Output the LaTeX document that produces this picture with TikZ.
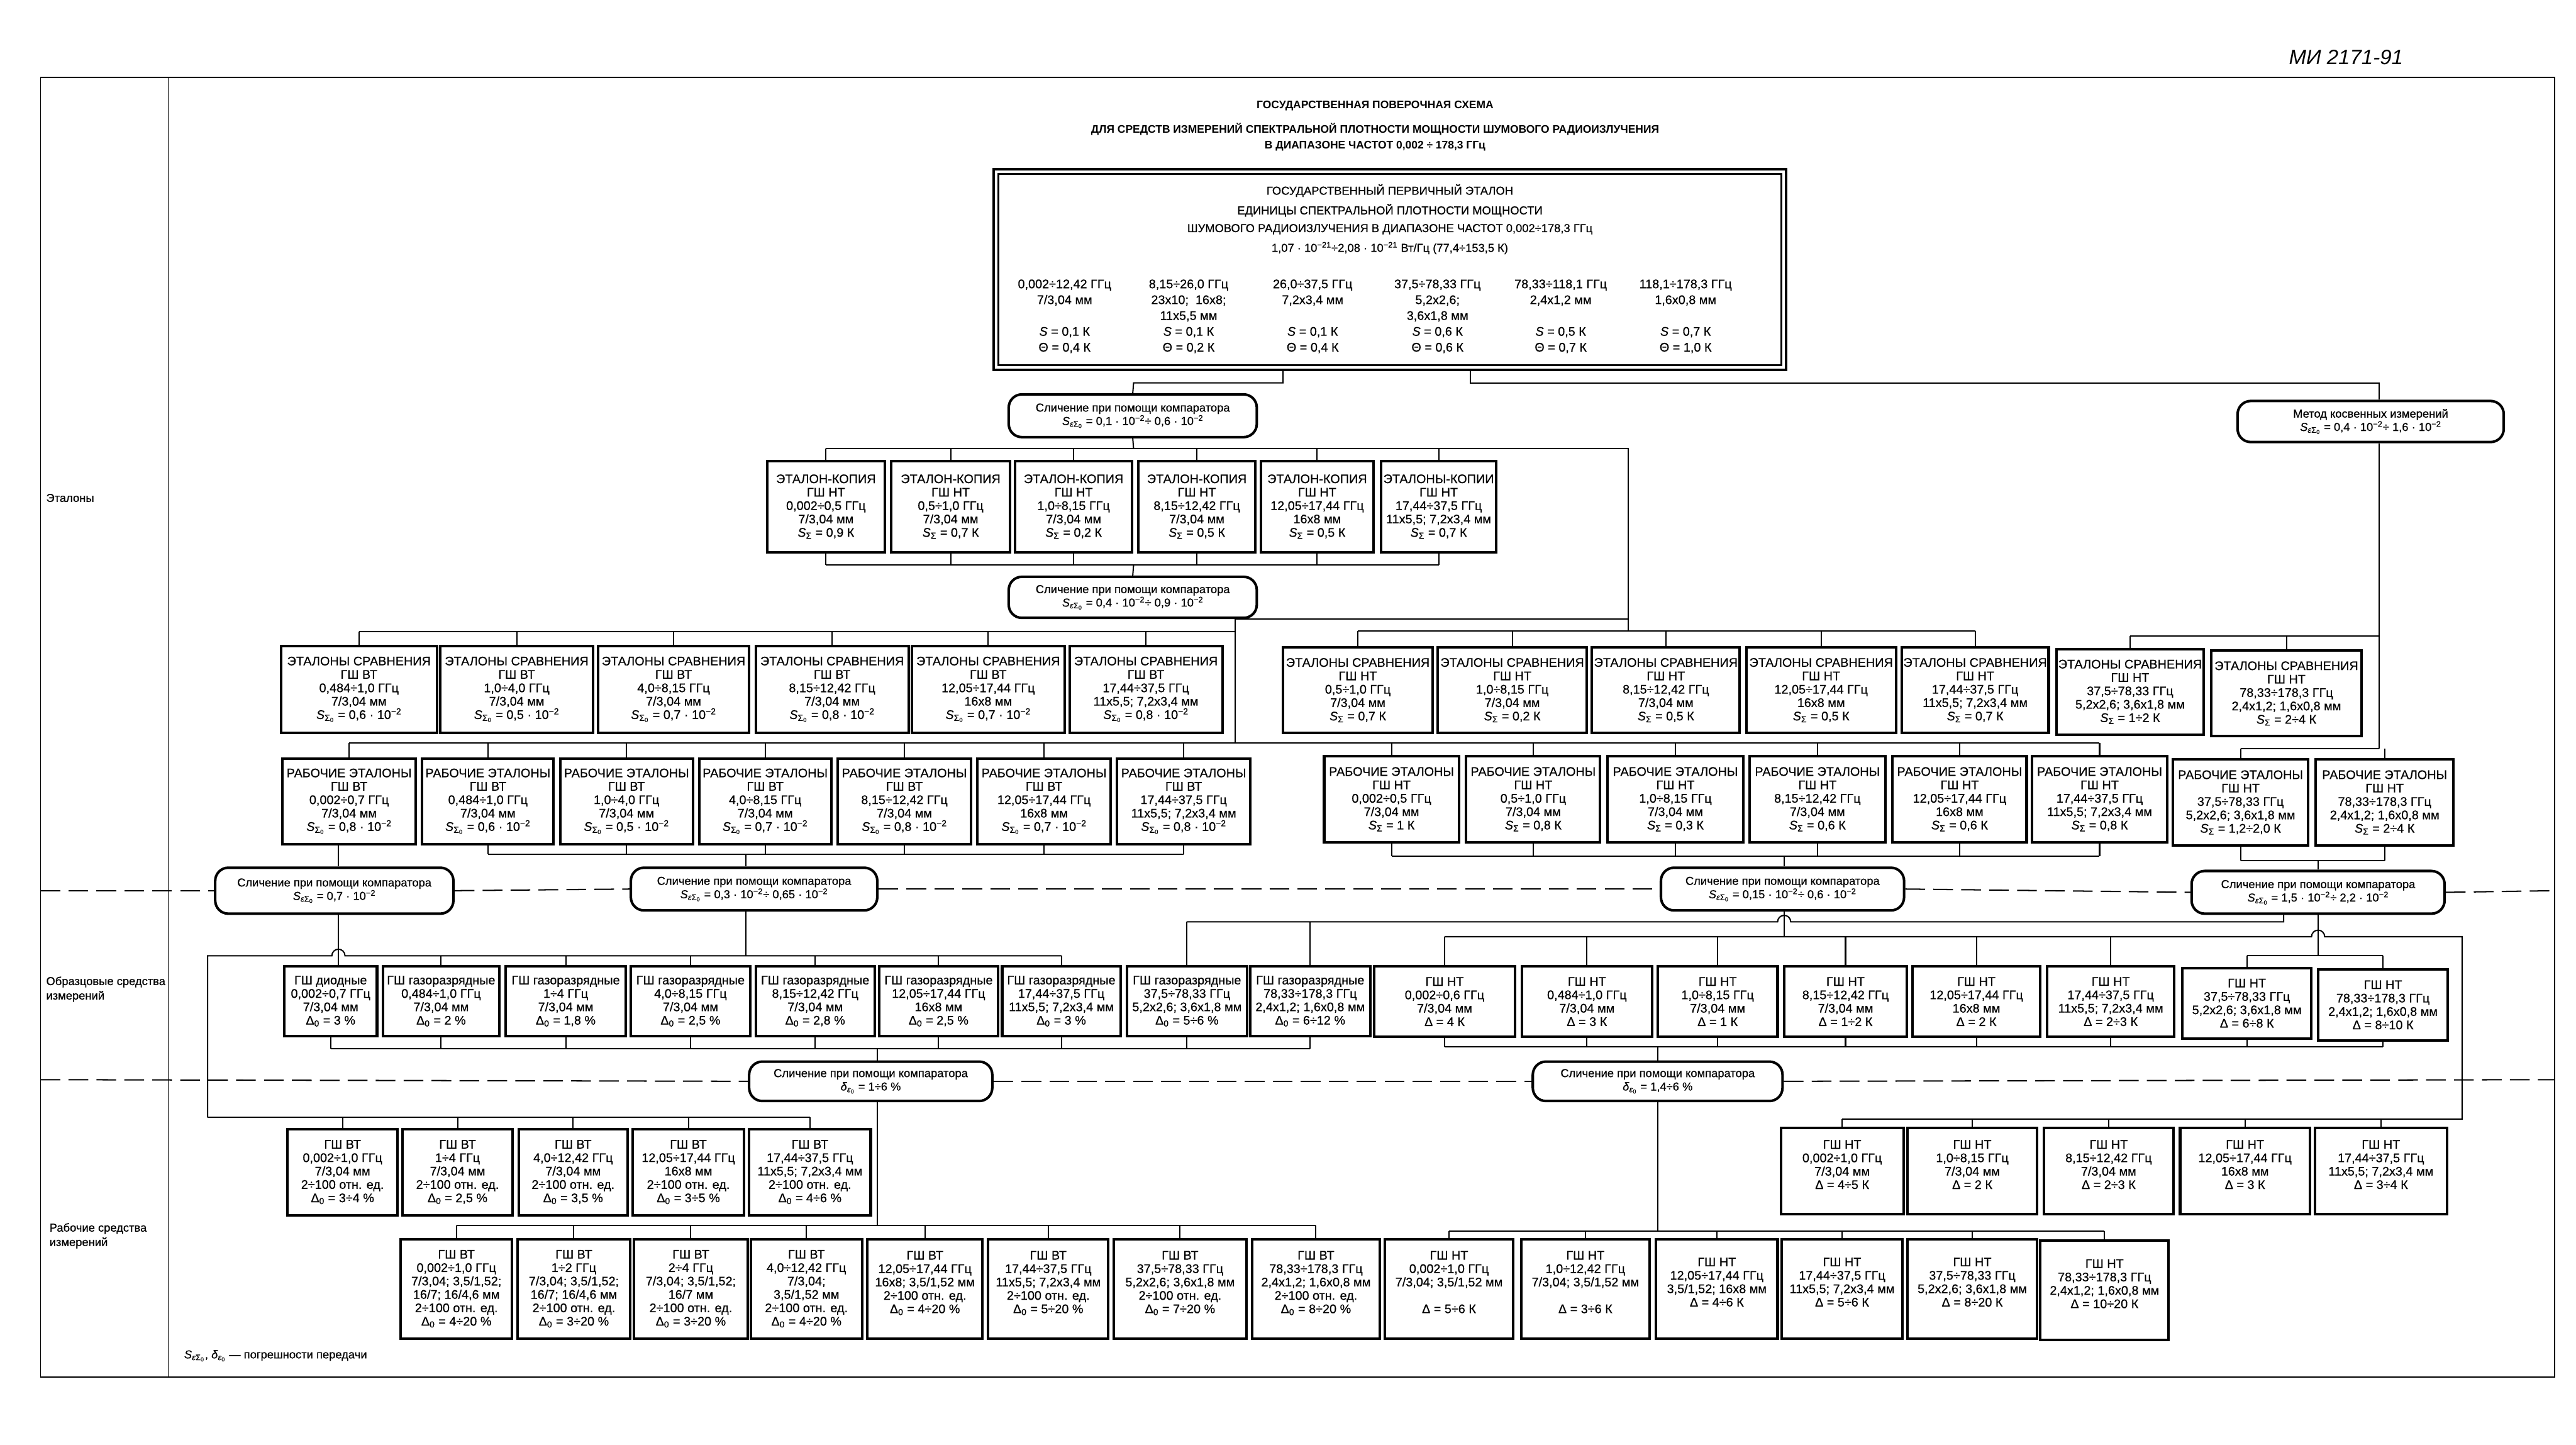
\documentclass[tikz,border=0pt]{standalone}
\usepackage{fontspec}
\setmainfont{Liberation Sans}
\newfontfamily\bxfont{Liberation Sans}[FakeBold=0.5]
\usetikzlibrary{calc}
\newcommand\Seps{\textit{S}\textsubscript{\textit{ε}Σ\textsubscript{0}}}
\newcommand\SSig{\textit{S}\textsubscript{Σ}}
\newcommand\SSigo{\textit{S}\textsubscript{Σ\textsubscript{0}}}
\newcommand\Dnull{Δ\textsubscript{0}}
\newcommand\depsn{\textit{δ}\textsubscript{\textit{ε}\textsubscript{0}}}
\newcommand\tm{\textsuperscript{−2}}
\newcommand\bxn[7][bx]{\node[#1, minimum width={(#5-#3)*0.05cm}, minimum height={(#6-#4)*0.05cm}] (#2) at ({(#3+#5)/2},{(#4+#6)/2}) {#7};}
\newcommand\dnc[2]{\draw[cn] (#1.north) -- (#1.north |- 0,#2);}
\newcommand\upc[2]{\draw[cn] (#1.south) -- (#1.south |- 0,#2);}
\begin{document}
\begin{tikzpicture}[x=0.05cm,y=-0.05cm,
 bx/.style={draw,line width=2.2pt,inner sep=0pt,align=center,font=\bxfont\fontsize{10.8}{11.6}\selectfont,fill=white},
 cmp/.style={draw,line width=2.2pt,rounded corners=0.4cm,inner sep=0pt,align=center,font=\bxfont\fontsize{10}{11.6}\selectfont,fill=white},
 txt/.style={inner sep=0pt,align=center,font=\bxfont\fontsize{10}{12}\selectfont},
 ttl/.style={inner sep=0pt,font=\bfseries\fontsize{9.5}{11}\selectfont},
 cn/.style={line width=1.1pt},
 dsh/.style={line width=1.1pt,dash pattern=on 0.6cm off 0.25cm},
 frm/.style={line width=0.8pt},
 lbl/.style={inner sep=0pt,align=left,anchor=west,font=\bxfont\fontsize{10}{12.5}\selectfont}]
\useasboundingbox (0,0) rectangle (1568,879);
\fill[white] (0,0) rectangle (1568,879);

% frame
\draw[frm] (24.7,47) rectangle (1555,838);
\draw[frm] (102.5,47) -- (102.5,838);
\node[lbl] (lab1) at (28,303) {Эталоны};
\node[lbl] (lab2) at (28,602) {Образцовые средства\\измерений};
\node[lbl] (lab3) at (30,752) {Рабочие средства\\измерений};
\node[lbl] (leg) at (112,825) {\Seps, \depsn{} — погрешности передачи};

\node[inner sep=0pt,font=\fontsize{18}{21}\selectfont\itshape] (mi) at (1428,35) {МИ 2171-91};
\node[ttl] (t1) at (837,64.3) {ГОСУДАРСТВЕННАЯ ПОВЕРОЧНАЯ СХЕМА};
\node[ttl] (t2) at (837,78.7) {ДЛЯ СРЕДСТВ ИЗМЕРЕНИЙ СПЕКТРАЛЬНОЙ ПЛОТНОСТИ МОЩНОСТИ ШУМОВОГО РАДИОИЗЛУЧЕНИЯ};
\node[ttl] (t3) at (837,89) {В ДИАПАЗОНЕ ЧАСТОТ 0,002 ÷ 178,3 ГГц};

% top box
\bxn[bx]{tb}{605}{103}{1087}{225}{}
\draw[line width=1.8pt] ($(tb.north west)+(3.5,3.5)$) rectangle ($(tb.south east)+(-3.5,-3.5)$);
\node[txt] (tb1) at (846,116) {ГОСУДАРСТВЕННЫЙ ПЕРВИЧНЫЙ ЭТАЛОН};
\node[txt] (tb2) at (846,128) {ЕДИНИЦЫ СПЕКТРАЛЬНОЙ ПЛОТНОСТИ МОЩНОСТИ};
\node[txt] (tb3) at (846,139.5) {ШУМОВОГО РАДИОИЗЛУЧЕНИЯ В ДИАПАЗОНЕ ЧАСТОТ 0,002÷178,3 ГГц};
\node[txt] (tb4) at (846,151) {1,07 · 10\textsuperscript{−21}÷2,08 · 10\textsuperscript{−21} Вт/Гц (77,4÷153,5 К)};
\tikzset{col/.style={inner sep=0pt,align=center,font=\bxfont\fontsize{10.8}{13.7}\selectfont}}
\node[col] (cl1) at (648,192.5) {0,002÷12,42 ГГц\\7/3,04 мм\\~\\\textit{S} = 0,1 К\\Θ = 0,4 К};
\node[col] (cl2) at (723.5,192.5) {8,15÷26,0 ГГц\\23x10;~~16x8;\\11x5,5 мм\\\textit{S} = 0,1 К\\Θ = 0,2 К};
\node[col] (cl3) at (799,192.5) {26,0÷37,5 ГГц\\7,2x3,4 мм\\~\\\textit{S} = 0,1 К\\Θ = 0,4 К};
\node[col] (cl4) at (875,192.5) {37,5÷78,33 ГГц\\5,2x2,6;\\3,6x1,8 мм\\\textit{S} = 0,6 К\\Θ = 0,6 К};
\node[col] (cl5) at (950,192.5) {78,33÷118,1 ГГц\\2,4x1,2 мм\\~\\\textit{S} = 0,5 К\\Θ = 0,7 К};
\node[col] (cl6) at (1026,192.5) {118,1÷178,3 ГГц\\1,6x0,8 мм\\~\\\textit{S} = 0,7 К\\Θ = 1,0 К};

% comparators / method
\bxn[cmp]{c1}{614}{240}{765}{266}{Сличение при помощи компаратора\\\Seps{} = 0,1 · 10\tm ÷ 0,6 · 10\tm}
\bxn[cmp]{m}{1362}{244}{1524}{269}{Метод косвенных измерений\\\Seps{} = 0,4 · 10\tm ÷ 1,6 · 10\tm}
\bxn[cmp]{c2}{614}{351}{765}{376}{Сличение при помощи компаратора\\\Seps{} = 0,4 · 10\tm ÷ 0,9 · 10\tm}

% эталоны-копии
\bxn{ek1}{467}{280.5}{538.5}{336}{ЭТАЛОН-КОПИЯ\\ГШ НТ\\0,002÷0,5 ГГц\\7/3,04 мм\\\SSig{} = 0,9 К}
\bxn{ek2}{542.6}{280.5}{614.7}{336}{ЭТАЛОН-КОПИЯ\\ГШ НТ\\0,5÷1,0 ГГц\\7/3,04 мм\\\SSig{} = 0,7 К}
\bxn{ek3}{618}{280.5}{689}{336}{ЭТАЛОН-КОПИЯ\\ГШ НТ\\1,0÷8,15 ГГц\\7/3,04 мм\\\SSig{} = 0,2 К}
\bxn{ek4}{693}{280.5}{764}{336}{ЭТАЛОН-КОПИЯ\\ГШ НТ\\8,15÷12,42 ГГц\\7/3,04 мм\\\SSig{} = 0,5 К}
\bxn{ek5}{767.5}{280.5}{836}{336}{ЭТАЛОН-КОПИЯ\\ГШ НТ\\12,05÷17,44 ГГц\\16x8 мм\\\SSig{} = 0,5 К}
\bxn{ek6}{840.6}{280.5}{910.8}{336}{ЭТАЛОНЫ-КОПИИ\\ГШ НТ\\17,44÷37,5 ГГц\\11x5,5;~7,2x3,4 мм\\\SSig{} = 0,7 К}

% эталоны сравнения ВТ
\bxn{es1}{171}{393}{266}{446}{ЭТАЛОНЫ СРАВНЕНИЯ\\ГШ ВТ\\0,484÷1,0 ГГц\\7/3,04 мм\\\SSigo{} = 0,6 · 10\tm}
\bxn{es2}{268}{393}{361}{446}{ЭТАЛОНЫ СРАВНЕНИЯ\\ГШ ВТ\\1,0÷4,0 ГГц\\7/3,04 мм\\\SSigo{} = 0,5 · 10\tm}
\bxn{es3}{364}{393}{456}{446}{ЭТАЛОНЫ СРАВНЕНИЯ\\ГШ ВТ\\4,0÷8,15 ГГц\\7/3,04 мм\\\SSigo{} = 0,7 · 10\tm}
\bxn{es4}{460}{393}{553}{446}{ЭТАЛОНЫ СРАВНЕНИЯ\\ГШ ВТ\\8,15÷12,42 ГГц\\7/3,04 мм\\\SSigo{} = 0,8 · 10\tm}
\bxn{es5}{555}{393}{648}{446}{ЭТАЛОНЫ СРАВНЕНИЯ\\ГШ ВТ\\12,05÷17,44 ГГц\\16x8 мм\\\SSigo{} = 0,7 · 10\tm}
\bxn{es6}{651}{393}{744}{446}{ЭТАЛОНЫ СРАВНЕНИЯ\\ГШ ВТ\\17,44÷37,5 ГГц\\11x5,5;~7,2x3,4 мм\\\SSigo{} = 0,8 · 10\tm}
% эталоны сравнения НТ
\bxn{er1}{781}{394}{872}{446}{ЭТАЛОНЫ СРАВНЕНИЯ\\ГШ НТ\\0,5÷1,0 ГГц\\7/3,04 мм\\\SSig{} = 0,7 К}
\bxn{er2}{875}{394}{966}{446}{ЭТАЛОНЫ СРАВНЕНИЯ\\ГШ НТ\\1,0÷8,15 ГГц\\7/3,04 мм\\\SSig{} = 0,2 К}
\bxn{er3}{969}{394}{1059}{446}{ЭТАЛОНЫ СРАВНЕНИЯ\\ГШ НТ\\8,15÷12,42 ГГц\\7/3,04 мм\\\SSig{} = 0,5 К}
\bxn{er4}{1063}{394}{1154}{446}{ЭТАЛОНЫ СРАВНЕНИЯ\\ГШ НТ\\12,05÷17,44 ГГц\\16x8 мм\\\SSig{} = 0,5 К}
\bxn{er5}{1157.5}{394}{1247}{446}{ЭТАЛОНЫ СРАВНЕНИЯ\\ГШ НТ\\17,44÷37,5 ГГц\\11x5,5;~7,2x3,4 мм\\\SSig{} = 0,7 К}
\bxn{er6}{1251.6}{395}{1341.5}{447}{ЭТАЛОНЫ СРАВНЕНИЯ\\ГШ НТ\\37,5÷78,33 ГГц\\5,2x2,6;~3,6x1,8 мм\\\SSig{} = 1÷2 К}
\bxn{er7}{1345.8}{396}{1437.6}{448}{ЭТАЛОНЫ СРАВНЕНИЯ\\ГШ НТ\\78,33÷178,3 ГГц\\2,4x1,2;~1,6x0,8 мм\\\SSig{} = 2÷4 К}

% рабочие эталоны ВТ
\bxn{rl1}{172}{461.5}{253}{513.7}{РАБОЧИЕ ЭТАЛОНЫ\\ГШ ВТ\\0,002÷0,7 ГГц\\7/3,04 мм\\\SSigo{} = 0,8 · 10\tm}
\bxn{rl2}{257}{461.5}{337}{513.7}{РАБОЧИЕ ЭТАЛОНЫ\\ГШ ВТ\\0,484÷1,0 ГГц\\7/3,04 мм\\\SSigo{} = 0,6 · 10\tm}
\bxn{rl3}{341}{461.5}{421.7}{513.7}{РАБОЧИЕ ЭТАЛОНЫ\\ГШ ВТ\\1,0÷4,0 ГГц\\7/3,04 мм\\\SSigo{} = 0,5 · 10\tm}
\bxn{rl4}{425.5}{461.5}{506}{513.7}{РАБОЧИЕ ЭТАЛОНЫ\\ГШ ВТ\\4,0÷8,15 ГГц\\7/3,04 мм\\\SSigo{} = 0,7 · 10\tm}
\bxn{rl5}{510}{461.5}{591}{513.7}{РАБОЧИЕ ЭТАЛОНЫ\\ГШ ВТ\\8,15÷12,42 ГГц\\7/3,04 мм\\\SSigo{} = 0,8 · 10\tm}
\bxn{rl6}{595}{461.5}{676}{513.7}{РАБОЧИЕ ЭТАЛОНЫ\\ГШ ВТ\\12,05÷17,44 ГГц\\16x8 мм\\\SSigo{} = 0,7 · 10\tm}
\bxn{rl7}{680}{461.5}{761}{513.7}{РАБОЧИЕ ЭТАЛОНЫ\\ГШ ВТ\\17,44÷37,5 ГГц\\11x5,5;~7,2x3,4 мм\\\SSigo{} = 0,8 · 10\tm}
% рабочие эталоны НТ
\bxn{rr1}{806}{460}{888}{512.7}{РАБОЧИЕ ЭТАЛОНЫ\\ГШ НТ\\0,002÷0,5 ГГц\\7/3,04 мм\\\SSig{} = 1 К}
\bxn{rr2}{892.5}{460}{974}{512.7}{РАБОЧИЕ ЭТАЛОНЫ\\ГШ НТ\\0,5÷1,0 ГГц\\7/3,04 мм\\\SSig{} = 0,8 К}
\bxn{rr3}{978.6}{460}{1061}{512.7}{РАБОЧИЕ ЭТАЛОНЫ\\ГШ НТ\\1,0÷8,15 ГГц\\7/3,04 мм\\\SSig{} = 0,3 К}
\bxn{rr4}{1065}{460}{1147.5}{512.7}{РАБОЧИЕ ЭТАЛОНЫ\\ГШ НТ\\8,15÷12,42 ГГц\\7/3,04 мм\\\SSig{} = 0,6 К}
\bxn{rr5}{1152}{460}{1233.6}{512.7}{РАБОЧИЕ ЭТАЛОНЫ\\ГШ НТ\\12,05÷17,44 ГГц\\16x8 мм\\\SSig{} = 0,6 К}
\bxn{rr6}{1237}{460}{1319}{512.7}{РАБОЧИЕ ЭТАЛОНЫ\\ГШ НТ\\17,44÷37,5 ГГц\\11x5,5;~7,2x3,4 мм\\\SSig{} = 0,8 К}
\bxn{rr7}{1322.6}{462}{1405}{514.6}{РАБОЧИЕ ЭТАЛОНЫ\\ГШ НТ\\37,5÷78,33 ГГц\\5,2x2,6;~3,6x1,8 мм\\\SSig{} = 1,2÷2,0 К}
\bxn{rr8}{1409.6}{462}{1493.4}{514.6}{РАБОЧИЕ ЭТАЛОНЫ\\ГШ НТ\\78,33÷178,3 ГГц\\2,4x1,2;~1,6x0,8 мм\\\SSig{} = 2÷4 К}

% comparators row
\bxn[cmp]{c3}{131}{528}{276}{556}{Сличение при помощи компаратора\\\Seps{} = 0,7 · 10\tm}
\bxn[cmp]{c4}{384}{528}{534}{554}{Сличение при помощи компаратора\\\Seps{} = 0,3 · 10\tm ÷ 0,65 · 10\tm}
\bxn[cmp]{c5}{1011}{528}{1159}{554}{Сличение при помощи компаратора\\\Seps{} = 0,15 · 10\tm ÷ 0,6 · 10\tm}
\bxn[cmp]{c6}{1334}{530}{1488}{556}{Сличение при помощи компаратора\\\Seps{} = 1,5 · 10\tm ÷ 2,2 · 10\tm}

% образцовые ВТ
\bxn{ol1}{173}{588}{229.5}{630.5}{ГШ диодные\\0,002÷0,7 ГГц\\7/3,04 мм\\\Dnull{} = 3 \%}
\bxn{ol2}{233}{588}{304}{630.5}{ГШ газоразрядные\\0,484÷1,0 ГГц\\7/3,04 мм\\\Dnull{} = 2 \%}
\bxn{ol3}{307.7}{588}{381}{630.5}{ГШ газоразрядные\\1÷4 ГГц\\7/3,04 мм\\\Dnull{} = 1,8 \%}
\bxn{ol4}{384}{588}{456.6}{630.5}{ГШ газоразрядные\\4,0÷8,15 ГГц\\7/3,04 мм\\\Dnull{} = 2,5 \%}
\bxn{ol5}{460}{588}{532.4}{630.5}{ГШ газоразрядные\\8,15÷12,42 ГГц\\7/3,04 мм\\\Dnull{} = 2,8 \%}
\bxn{ol6}{535}{588}{607.6}{630.5}{ГШ газоразрядные\\12,05÷17,44 ГГц\\16x8 мм\\\Dnull{} = 2,5 \%}
\bxn{ol7}{610}{588}{682}{630.5}{ГШ газоразрядные\\17,44÷37,5 ГГц\\11x5,5;~7,2x3,4 мм\\\Dnull{} = 3 \%}
\bxn{ol8}{686}{588}{759}{630.5}{ГШ газоразрядные\\37,5÷78,33 ГГц\\5,2x2,6;~3,6x1,8 мм\\\Dnull{} = 5÷6 \%}
\bxn{ol9}{761}{588}{834}{630.5}{ГШ газоразрядные\\78,33÷178,3 ГГц\\2,4x1,2;~1,6x0,8 мм\\\Dnull{} = 6÷12 \%}
% образцовые НТ
\bxn{or1}{836.6}{588}{922}{631}{ГШ НТ\\0,002÷0,6 ГГц\\7/3,04 мм\\Δ = 4 К}
\bxn{or2}{926.4}{588}{1005.5}{631}{ГШ НТ\\0,484÷1,0 ГГц\\7/3,04 мм\\Δ = 3 К}
\bxn{or3}{1009}{588}{1082}{631}{ГШ НТ\\1,0÷8,15 ГГц\\7/3,04 мм\\Δ = 1 К}
\bxn{or4}{1086}{588}{1160.7}{631}{ГШ НТ\\8,15÷12,42 ГГц\\7/3,04 мм\\Δ = 1÷2 К}
\bxn{or5}{1164}{588}{1242}{631}{ГШ НТ\\12,05÷17,44 ГГц\\16x8 мм\\Δ = 2 К}
\bxn{or6}{1246}{588}{1323.5}{631}{ГШ НТ\\17,44÷37,5 ГГц\\11x5,5;~7,2x3,4 мм\\Δ = 2÷3 К}
\bxn{or7}{1328.5}{589}{1406.8}{632}{ГШ НТ\\37,5÷78,33 ГГц\\5,2x2,6;~3,6x1,8 мм\\Δ = 6÷8 К}
\bxn{or8}{1411}{590}{1490}{633}{ГШ НТ\\78,33÷178,3 ГГц\\2,4x1,2;~1,6x0,8 мм\\Δ = 8÷10 К}

\bxn[cmp]{c7}{456}{646}{604}{670}{Сличение при помощи компаратора\\\depsn{} = 1÷6 \%}
\bxn[cmp]{c8}{933}{646}{1085}{670}{Сличение при помощи компаратора\\\depsn{} = 1,4÷6 \%}

% рабочие СИ ряд 1
\bxn{gl1}{175}{687}{242}{739.5}{ГШ ВТ\\0,002÷1,0 ГГц\\7/3,04 мм\\2÷100 отн. ед.\\\Dnull{} = 3÷4 \%}
\bxn{gl2}{245}{687}{312}{739.5}{ГШ ВТ\\1÷4 ГГц\\7/3,04 мм\\2÷100 отн. ед.\\\Dnull{} = 2,5 \%}
\bxn{gl3}{315.7}{687}{382}{739.5}{ГШ ВТ\\4,0÷12,42 ГГц\\7/3,04 мм\\2÷100 отн. ед.\\\Dnull{} = 3,5 \%}
\bxn{gl4}{385}{687}{453}{739.5}{ГШ ВТ\\12,05÷17,44 ГГц\\16x8 мм\\2÷100 отн. ед.\\\Dnull{} = 3÷5 \%}
\bxn{gl5}{456}{687}{530}{739.5}{ГШ ВТ\\17,44÷37,5 ГГц\\11x5,5;~7,2x3,4 мм\\2÷100 отн. ед.\\\Dnull{} = 4÷6 \%}
\bxn{gr1}{1084}{686.5}{1158.6}{739}{ГШ НТ\\0,002÷1,0 ГГц\\7/3,04 мм\\Δ = 4÷5 К\\~}
\bxn{gr2}{1161}{686.5}{1240}{739}{ГШ НТ\\1,0÷8,15 ГГц\\7/3,04 мм\\Δ = 2 К\\~}
\bxn{gr3}{1244}{686.5}{1323}{739}{ГШ НТ\\8,15÷12,42 ГГц\\7/3,04 мм\\Δ = 2÷3 К\\~}
\bxn{gr4}{1327}{686.5}{1406}{739}{ГШ НТ\\12,05÷17,44 ГГц\\16x8 мм\\Δ = 3 К\\~}
\bxn{gr5}{1409}{686.5}{1489.5}{739}{ГШ НТ\\17,44÷37,5 ГГц\\11x5,5;~7,2x3,4 мм\\Δ = 3÷4 К\\~}

% рабочие СИ ряд 2
\bxn{hl1}{244}{754}{311.6}{814.5}{ГШ ВТ\\0,002÷1,0 ГГц\\7/3,04;~3,5/1,52;\\16/7;~16/4,6 мм\\2÷100 отн. ед.\\\Dnull{} = 4÷20 \%}
\bxn{hl2}{315}{754}{383.6}{814.5}{ГШ ВТ\\1÷2 ГГц\\7/3,04;~3,5/1,52;\\16/7;~16/4,6 мм\\2÷100 отн. ед.\\\Dnull{} = 3÷20 \%}
\bxn{hl3}{386}{754}{455}{814.5}{ГШ ВТ\\2÷4 ГГц\\7/3,04;~3,5/1,52;\\16/7 мм\\2÷100 отн. ед.\\\Dnull{} = 3÷20 \%}
\bxn{hl4}{457}{754}{524.7}{814.5}{ГШ ВТ\\4,0÷12,42 ГГц\\7/3,04;\\3,5/1,52 мм\\2÷100 отн. ед.\\\Dnull{} = 4÷20 \%}
\bxn{hl5}{528}{754}{598}{814.5}{ГШ ВТ\\12,05÷17,44 ГГц\\16x8;~3,5/1,52 мм\\2÷100 отн. ед.\\\Dnull{} = 4÷20 \%\\~}
\bxn{hl6}{601.5}{754}{674.6}{814.5}{ГШ ВТ\\17,44÷37,5 ГГц\\11x5,5;~7,2x3,4 мм\\2÷100 отн. ед.\\\Dnull{} = 5÷20 \%\\~}
\bxn{hl7}{678}{754}{758.6}{814.5}{ГШ ВТ\\37,5÷78,33 ГГц\\5,2x2,6;~3,6x1,8 мм\\2÷100 отн. ед.\\\Dnull{} = 7÷20 \%\\~}
\bxn{hl8}{762}{754}{840}{814.5}{ГШ ВТ\\78,33÷178,3 ГГц\\2,4x1,2;~1,6x0,8 мм\\2÷100 отн. ед.\\\Dnull{} = 8÷20 \%\\~}
\bxn{hr1}{843}{754}{921}{814.5}{ГШ НТ\\0,002÷1,0 ГГц\\7/3,04;~3,5/1,52 мм\\~\\Δ = 5÷6 К\\~}
\bxn{hr2}{926}{754}{1004}{814.5}{ГШ НТ\\1,0÷12,42 ГГц\\7/3,04;~3,5/1,52 мм\\~\\Δ = 3÷6 К\\~}
\bxn{hr3}{1008}{754}{1082}{814.5}{ГШ НТ\\12,05÷17,44 ГГц\\3,5/1,52;~16x8 мм\\Δ = 4÷6 К\\~}
\bxn{hr4}{1084.5}{754}{1158}{814.5}{ГШ НТ\\17,44÷37,5 ГГц\\11x5,5;~7,2x3,4 мм\\Δ = 5÷6 К\\~}
\bxn{hr5}{1161}{754}{1240}{814.5}{ГШ НТ\\37,5÷78,33 ГГц\\5,2x2,6;~3,6x1,8 мм\\Δ = 8÷20 К\\~}
\bxn{hr6}{1242}{755}{1320}{815.5}{ГШ НТ\\78,33÷178,3 ГГц\\2,4x1,2;~1,6x0,8 мм\\Δ = 10÷20 К\\~}

% ---------- connectors ----------
\draw[cn] (tb.south -| 781,0) -- (781,233) -- (690,233) -- (c1.north);
\draw[cn] (tb.south -| 895,0) -- (895,233) -- (1448,233) -- (m.north -| 1448,0);
% C1 -> ЭК
\draw[cn] (c1.south) -- (690,273);
\draw[cn] (ek1.north |- 0,273) -- (991,273) -- (991,384);
\foreach \n in {ek1,ek2,ek3,ek4,ek5,ek6} {\dnc{\n}{273}}
% ЭК -> C2
\foreach \n in {ek1,ek2,ek3,ek4,ek5,ek6} {\upc{\n}{343.7}}
\draw[cn] (ek1.south |- 0,343.7) -- (ek6.south |- 0,343.7);
\draw[cn] (690,343.7) -- (c2.north);
% C2 -> ЭС
\draw[cn] (c2.south -| 752,0) -- (752,452);
\draw[cn] (752,376.5) -- (991,376.5);
\draw[cn] (es1.north |- 0,384.3) -- (752,384.3);
\foreach \n in {es1,es2,es3,es4,es5,es6} {\dnc{\n}{384.3}}
\draw[cn] (er1.north |- 0,384) -- (er5.north |- 0,384);
\foreach \n in {er1,er2,er3,er4,er5} {\dnc{\n}{384}}
% method
\draw[cn] (m.south -| 1448,0) -- (1448,455.5);
\draw[cn] (er6.north |- 0,387) -- (1448,387);
\foreach \n in {er6,er7} {\dnc{\n}{387}}
% -> рабочие эталоны
\draw[cn] (rl1.north |- 0,452) -- (rr6.north |- 0,452);
\foreach \n in {rl1,rl2,rl3,rl4,rl5,rl6,rl7,rr1,rr2,rr3,rr4,rr5,rr6} {\dnc{\n}{452}}
\draw[cn] (rr7.north |- 0,455.5) -- (1448,455.5);
\foreach \n in {rr7,rr8} {\dnc{\n}{455.5}}
% рабочие эталоны -> comparators
\draw[cn] (rl1.south -| 206,0) -- (c3.north -| 206,0);
\foreach \n in {rl2,rl3,rl4,rl5,rl6,rl7} {\upc{\n}{520}}
\draw[cn] (rl2.south |- 0,520) -- (rl7.south |- 0,520);
\draw[cn] (454,520) -- (c4.north -| 454,0);
\foreach \n in {rr1,rr2,rr3,rr4,rr5,rr6} {\upc{\n}{521}}
\draw[cn] (rr1.south |- 0,521) -- (rr6.south |- 0,521);
\draw[cn] (1086,521) -- (c5.north -| 1086,0);
\foreach \n in {rr7,rr8} {\upc{\n}{523.5}}
\draw[cn] (rr7.south |- 0,523.5) -- (rr8.south |- 0,523.5);
\draw[cn] (1411,523.5) -- (c6.north -| 1411,0);
% comparators -> образцовые
\draw[cn] (c3.south -| 206,0) -- (ol1.north -| 206,0);
\draw[cn] (c4.south -| 454,0) -- (454,581.6);
\draw[cn] (126.4,680) -- (126.4,581.6) -- (202,581.6) arc[start angle=180,end angle=0,radius=0.2cm] -- (ol7.north |- 0,581.6);
\foreach \n in {ol2,ol3,ol4,ol5,ol6,ol7} {\dnc{\n}{581.6}}
\draw[cn] (126.4,680) -- (gl5.north |- 0,680);
\foreach \n in {gl1,gl2,gl3,gl4,gl5} {\dnc{\n}{680}}
\draw[cn] (c6.south -| 1390,0) -- (1390,561) -- (1090,561) arc[start angle=0,end angle=180,radius=0.2cm] -- (ol8.north |- 0,561);
\foreach \n in {ol8,ol9} {\dnc{\n}{561}}
\draw[cn] (c5.south -| 1086,0) -- (1086,570);
\draw[cn] (or1.north |- 0,570) -- (1407,570) arc[start angle=180,end angle=0,radius=0.2cm] -- (1498.6,570) -- (1498.6,681) -- (gr1.north |- 0,681);
\foreach \n in {or1,or2,or3,or4,or5,or6} {\dnc{\n}{570}}
\foreach \n in {gr1,gr2,gr3,gr4,gr5} {\dnc{\n}{681}}
\draw[cn] (c6.south -| 1411,0) -- (1411,581.5);
\draw[cn] (or7.north |- 0,581.5) -- (or8.north |- 0,581.5);
\foreach \n in {or7,or8} {\dnc{\n}{581.5}}
% образцовые -> C7, C8
\foreach \n in {ol1,ol2,ol3,ol4,ol5,ol6,ol7,ol8,ol9} {\upc{\n}{638}}
\draw[cn] (ol1.south |- 0,638) -- (ol9.south |- 0,638);
\draw[cn] (534,638) -- (c7.north -| 534,0);
\foreach \n in {or1,or2,or3,or4,or5,or6,or7,or8} {\upc{\n}{637}}
\draw[cn] (or1.south |- 0,637) -- (or8.south |- 0,637);
\draw[cn] (1009,637) -- (c8.north);
% C7, C8 -> рабочие СИ
\draw[cn] (c7.south -| 534,0) -- (534,745.6);
\draw[cn] (hl1.north |- 0,745.6) -- (hl8.north |- 0,745.6);
\foreach \n in {hl1,hl2,hl3,hl4,hl5,hl6,hl7,hl8} {\dnc{\n}{745.6}}
\draw[cn] (c8.south) -- (1009,749);
\draw[cn] (hr1.north |- 0,749) -- (hr6.north |- 0,749);
\foreach \n in {hr1,hr2,hr3,hr4,hr5,hr6} {\dnc{\n}{749}}

% dashed separators
\draw[dsh] (24.7,542) -- (c3.west);
\draw[dsh] (c3.east) -- (c4.west);
\draw[dsh] (c4.east) -- (c5.west);
\draw[dsh] (c5.east) -- (c6.west);
\draw[dsh] (c6.east) -- (1555,542);
\draw[dsh] (24.7,657) -- (c7.west);
\draw[dsh] (c7.east) -- (c8.west);
\draw[dsh] (c8.east) -- (1555,657);
\end{tikzpicture}
\end{document}
